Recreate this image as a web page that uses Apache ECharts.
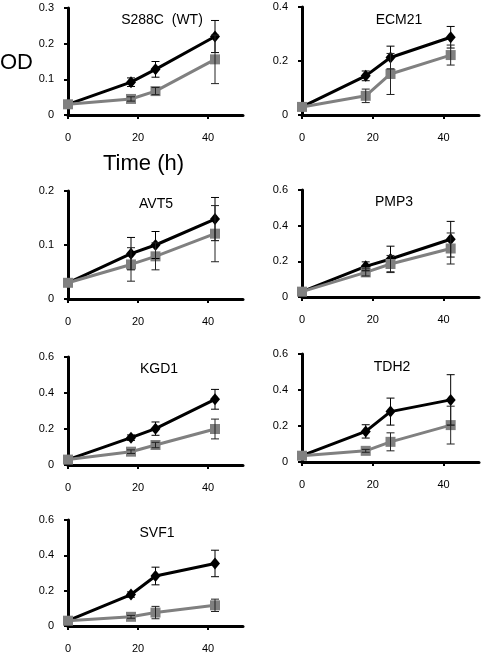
<!DOCTYPE html>
<html><head><meta charset="utf-8">
<script src="https://cdn.jsdelivr.net/npm/echarts@6/dist/echarts.min.js"></script>
<style>html,body{margin:0;padding:0;background:#fff}#c{width:482px;height:654px}</style>
</head><body><div id="c"></div>
<script>
const times = [0, 18, 25, 42];
const xTicks = [0, 20, 40];
const panelNames = ['S288C  (WT)', 'ECM21', 'AVT5', 'PMP3', 'KGD1', 'TDH2', 'SVF1'];
const yMax = [0.3, 0.4, 0.2, 0.6, 0.6, 0.6, 0.6];
const yStep = [0.1, 0.2, 0.1, 0.2, 0.2, 0.2, 0.2];

const s288cBlack = [0.03, 0.092, 0.128, 0.22];
const s288cBlackErr = [0, 0.012, 0.022, 0.045];
const s288cGray = [0.03, 0.045, 0.067, 0.156];
const s288cGrayErr = [0, 0.006, 0.01, 0.068];

const ecm21Black = [0.03, 0.145, 0.213, 0.288];
const ecm21BlackErr = [0, 0.018, 0.042, 0.04];
const ecm21Gray = [0.03, 0.071, 0.152, 0.222];
const ecm21GrayErr = [0, 0.025, 0.076, 0.037];

const avt5Black = [0.03, 0.084, 0.1, 0.148];
const avt5BlackErr = [0, 0.03, 0.025, 0.04];
const avt5Gray = [0.03, 0.064, 0.079, 0.121];
const avt5GrayErr = [0, 0.031, 0.025, 0.052];

const pmp3Black = [0.03, 0.172, 0.213, 0.324];
const pmp3BlackErr = [0, 0.025, 0.072, 0.1];
const pmp3Gray = [0.03, 0.138, 0.185, 0.272];
const pmp3GrayErr = [0, 0.02, 0.048, 0.087];

const kgd1Black = [0.03, 0.152, 0.202, 0.365];
const kgd1BlackErr = [0, 0.015, 0.037, 0.055];
const kgd1Gray = [0.03, 0.074, 0.111, 0.2];
const kgd1GrayErr = [0, 0.01, 0.015, 0.055];

const tdh2Black = [0.035, 0.17, 0.28, 0.345];
const tdh2BlackErr = [0, 0.037, 0.075, 0.14];
const tdh2Gray = [0.035, 0.062, 0.112, 0.205];
const tdh2GrayErr = [0, 0.008, 0.05, 0.105];

const svf1Black = [0.03, 0.178, 0.283, 0.354];
const svf1BlackErr = [0, 0.015, 0.05, 0.075];
const svf1Gray = [0.03, 0.052, 0.076, 0.117];
const svf1GrayErr = [0, 0.008, 0.035, 0.035];

const panels = [
  [s288cBlack, s288cBlackErr, s288cGray, s288cGrayErr],
  [ecm21Black, ecm21BlackErr, ecm21Gray, ecm21GrayErr],
  [avt5Black, avt5BlackErr, avt5Gray, avt5GrayErr],
  [pmp3Black, pmp3BlackErr, pmp3Gray, pmp3GrayErr],
  [kgd1Black, kgd1BlackErr, kgd1Gray, kgd1GrayErr],
  [tdh2Black, tdh2BlackErr, tdh2Gray, tdh2GrayErr],
  [svf1Black, svf1BlackErr, svf1Gray, svf1GrayErr]
];

// layout
const gridBoxes = [
  {left: 68, top: 8, width: 175, height: 107},
  {left: 302, top: 7, width: 177, height: 108},
  {left: 68, top: 191, width: 175, height: 108},
  {left: 302, top: 190, width: 177, height: 107},
  {left: 68, top: 357, width: 175, height: 108},
  {left: 302, top: 354, width: 177, height: 108},
  {left: 68, top: 520, width: 175, height: 108}
];
const titlePos = [[157, 8], [394, 8], [151, 192], [389, 190], [154, 357], [387, 355], [152, 521]];

const FONT = 'Liberation Sans, Arial, sans-serif';
const grids = [], xAxes = [], yAxes = [], series = [], titles = [];

function errSeries(i, means, errs, color) {
  const data = [];
  times.forEach((t, k) => { if (errs[k] > 0) data.push([t, means[k] - errs[k], means[k] + errs[k]]); });
  return {
    type: 'custom', xAxisIndex: i, yAxisIndex: i, z: 6, silent: true,
    encode: {x: 0, y: [1, 2]},
    data: data,
    renderItem: function (params, api) {
      const lo = api.coord([api.value(0), api.value(1)]);
      const hi = api.coord([api.value(0), api.value(2)]);
      const w = 4;
      const st = {stroke: color, lineWidth: 1};
      return {type: 'group', children: [
        {type: 'line', shape: {x1: lo[0], y1: lo[1], x2: hi[0], y2: hi[1]}, style: st},
        {type: 'line', shape: {x1: lo[0] - w, y1: lo[1], x2: lo[0] + w, y2: lo[1]}, style: st},
        {type: 'line', shape: {x1: hi[0] - w, y1: hi[1], x2: hi[0] + w, y2: hi[1]}, style: st}
      ]};
    }
  };
}

panels.forEach((p, i) => {
  grids.push(Object.assign({containLabel: false}, gridBoxes[i]));
  xAxes.push({
    type: 'value', gridIndex: i, min: 0, max: 50, interval: 10,
    splitLine: {show: false},
    axisLine: {onZero: false, lineStyle: {color: '#000', width: 3}},
    axisTick: {show: true, length: 4, customValues: xTicks, lineStyle: {color: '#000', width: 2}},
    axisLabel: {customValues: xTicks, margin: 17, color: '#000', fontSize: 11, fontFamily: FONT}
  });
  yAxes.push({
    type: 'value', gridIndex: i, min: 0, max: yMax[i], interval: yStep[i],
    splitLine: {show: false},
    axisLine: {show: true, onZero: false, lineStyle: {color: '#000', width: 3}},
    axisTick: {show: true, length: 4, lineStyle: {color: '#000', width: 2}},
    axisLabel: {margin: 14, color: '#000', fontSize: 11, fontFamily: FONT,
      formatter: v => v === 0 ? '0' : (+v.toFixed(1)).toString()}
  });
  series.push({
    type: 'line', xAxisIndex: i, yAxisIndex: i, z: 3,
    data: times.map((t, k) => [t, p[0][k]]),
    symbol: 'diamond', symbolSize: [10, 12], showAllSymbol: true,
    lineStyle: {color: '#000', width: 3}, itemStyle: {color: '#000'}
  });
  series.push({
    type: 'line', xAxisIndex: i, yAxisIndex: i, z: 4,
    data: times.map((t, k) => [t, p[2][k]]),
    symbol: 'rect', symbolSize: 10, showAllSymbol: true,
    lineStyle: {color: '#808080', width: 3}, itemStyle: {color: '#808080'}
  });
  series.push(errSeries(i, p[0], p[1], '#000'));
  series.push(errSeries(i, p[2], p[3], '#222'));
  titles.push({
    text: panelNames[i], left: titlePos[i][0], top: titlePos[i][1], textAlign: 'center',
    textStyle: {fontSize: 14, fontWeight: 'normal', color: '#000', fontFamily: FONT}
  });
});

const chart = echarts.init(document.getElementById('c'), null, {renderer: 'canvas'});
chart.setOption({
  animation: false,
  backgroundColor: '#fff',
  title: titles,
  grid: grids,
  xAxis: xAxes,
  yAxis: yAxes,
  series: series,
  graphic: [
    {type: 'text', left: 0, top: 52, style: {text: 'OD', fontSize: 22, fontFamily: FONT, fill: '#000'}},
    {type: 'text', left: 103, top: 153, style: {text: 'Time (h)', fontSize: 22, fontFamily: FONT, fill: '#000'}}
  ]
});
</script>
</body></html>
